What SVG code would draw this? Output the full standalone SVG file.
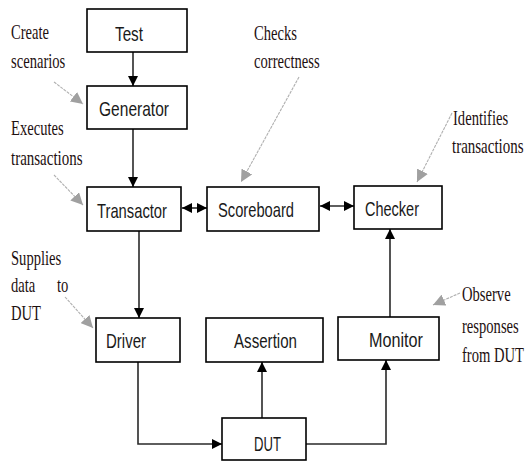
<svg xmlns="http://www.w3.org/2000/svg" width="527" height="461" viewBox="0 0 527 461">
<style>
.box{fill:#fff;stroke:#000;stroke-width:1.6}
.lbl{font-family:"Liberation Sans",Arial,sans-serif;font-size:21px;fill:#1a1a1a}
.note{font-family:"Liberation Serif","Times New Roman",serif;font-size:20px;fill:#1e1010}
.con{fill:none;stroke:#2a2a2a;stroke-width:1.6}
.ptr{fill:none;stroke:#b0b0b0;stroke-width:1.1;stroke-dasharray:3 1}
</style>
<defs>
<marker id="ah" markerUnits="userSpaceOnUse" markerWidth="12" markerHeight="10" refX="10" refY="5" orient="auto-start-reverse">
<path d="M0,0 L10,5 L0,10 Z" fill="#000"/>
</marker>
<marker id="gh" markerUnits="userSpaceOnUse" markerWidth="13" markerHeight="12" refX="12" refY="6" orient="auto">
<path d="M0,0 L12,6 L0,12 Z" fill="#a0a0a0"/>
</marker>
</defs>
<g id="connectors">
<line class="con" x1="133" y1="52" x2="133" y2="86" marker-end="url(#ah)"/>
<line class="con" x1="133" y1="129" x2="133" y2="187" marker-end="url(#ah)"/>
<line class="con" x1="139" y1="231" x2="139" y2="318" marker-end="url(#ah)"/>
<line class="con" x1="182" y1="208" x2="207" y2="208" marker-start="url(#ah)" marker-end="url(#ah)"/>
<line class="con" x1="320" y1="206" x2="354" y2="206" marker-start="url(#ah)" marker-end="url(#ah)"/>
<polyline class="con" points="138,362 138,444 222,444" marker-end="url(#ah)"/>
<line class="con" x1="262" y1="418" x2="262" y2="362" marker-end="url(#ah)"/>
<polyline class="con" points="306,444 386,444 386,360" marker-end="url(#ah)"/>
<line class="con" x1="390" y1="317" x2="390" y2="229" marker-end="url(#ah)"/>
<line class="ptr" x1="54" y1="82" x2="83" y2="104" marker-end="url(#gh)"/>
<line class="ptr" x1="299" y1="77" x2="241" y2="182" marker-end="url(#gh)"/>
<line class="ptr" x1="452" y1="113" x2="417" y2="182" marker-end="url(#gh)"/>
<line class="ptr" x1="54" y1="175" x2="83" y2="205" marker-end="url(#gh)"/>
<line class="ptr" x1="65" y1="297" x2="93" y2="328" marker-end="url(#gh)"/>
<line class="ptr" x1="460" y1="293" x2="433" y2="305" marker-end="url(#gh)"/>
</g>
<g id="test"><rect class="box" x="87" y="9" width="100" height="43"/><text class="lbl" x="115" y="41" textLength="28" lengthAdjust="spacingAndGlyphs">Test</text></g>
<g id="generator"><rect class="box" x="87" y="86" width="100" height="43"/><text class="lbl" x="99" y="116" textLength="70" lengthAdjust="spacingAndGlyphs">Generator</text></g>
<g id="transactor"><rect class="box" x="87" y="187" width="94" height="44"/><text class="lbl" x="97" y="218" textLength="70" lengthAdjust="spacingAndGlyphs">Transactor</text></g>
<g id="scoreboard"><rect class="box" x="207" y="187" width="112" height="44"/><text class="lbl" x="218" y="217" textLength="76" lengthAdjust="spacingAndGlyphs">Scoreboard</text></g>
<g id="checker"><rect class="box" x="354" y="186" width="88" height="43"/><text class="lbl" x="365" y="216" textLength="54" lengthAdjust="spacingAndGlyphs">Checker</text></g>
<g id="driver"><rect class="box" x="96" y="318" width="84" height="44"/><text class="lbl" x="106" y="348" textLength="40" lengthAdjust="spacingAndGlyphs">Driver</text></g>
<g id="assertion"><rect class="box" x="206" y="318" width="117" height="44"/><text class="lbl" x="234" y="348" textLength="63" lengthAdjust="spacingAndGlyphs">Assertion</text></g>
<g id="monitor"><rect class="box" x="338" y="317" width="101" height="43"/><text class="lbl" x="369" y="347" textLength="54" lengthAdjust="spacingAndGlyphs">Monitor</text></g>
<g id="dut"><rect class="box" x="222" y="418" width="84" height="42"/><text class="lbl" x="254" y="451" textLength="27" lengthAdjust="spacingAndGlyphs">DUT</text></g>
<g id="notes">
<text class="note" transform="translate(11,39) scale(0.73,1)">Create</text>
<text class="note" transform="translate(11,68) scale(0.73,1)">scenarios</text>
<text class="note" transform="translate(254,40) scale(0.73,1)">Checks</text>
<text class="note" transform="translate(254,68) scale(0.73,1)">correctness</text>
<text class="note" transform="translate(453,125) scale(0.73,1)">Identifies</text>
<text class="note" transform="translate(452,153) scale(0.75,1)">transactions</text>
<text class="note" transform="translate(11,135) scale(0.73,1)">Executes</text>
<text class="note" transform="translate(11,165) scale(0.75,1)">transactions</text>
<text class="note" transform="translate(11,265) scale(0.73,1)">Supplies</text>
<text class="note" transform="translate(11,292) scale(0.73,1)">data</text>
<text class="note" transform="translate(57,292) scale(0.73,1)">to</text>
<text class="note" transform="translate(11,320) scale(0.73,1)">DUT</text>
<text class="note" transform="translate(462,301) scale(0.73,1)">Observe</text>
<text class="note" transform="translate(462,333) scale(0.73,1)">responses</text>
<text class="note" transform="translate(462,362) scale(0.73,1)">from DUT</text>
</g>
</svg>
